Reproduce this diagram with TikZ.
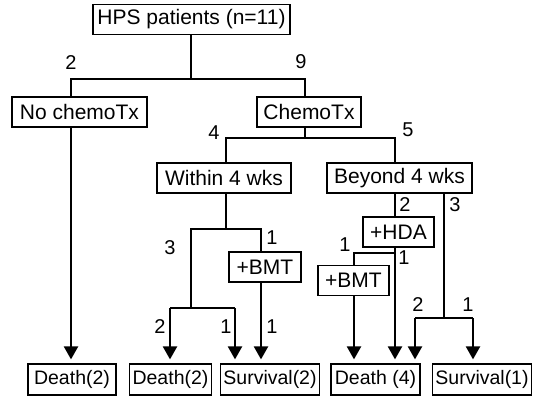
\documentclass[tikz,border=0pt]{standalone}
\usepackage{fontspec}
\setmainfont{Liberation Sans}
\usetikzlibrary{arrows.meta,positioning,calc}

\begin{document}
\begin{tikzpicture}[x=1pt,y=-1pt,line width=1.2pt,
  box node/.style={draw,line width=1.2pt,minimum height=30pt,inner xsep=3pt,inner ysep=2pt,font=\fontsize{21}{25}\selectfont},
  end node/.style={box node,minimum height=31pt,font=\fontsize{19.5}{23}\selectfont},
  num node/.style={inner sep=0pt,font=\fontsize{20}{24}\selectfont},
  arr/.style={line width=2.2pt,-{Triangle[width=14pt,length=13pt]},shorten >=4pt}]
\useasboundingbox (0,0) rectangle (536,399);
% boxes
\node[box node,minimum width=197pt] (hps) at (191.5,19.5) {HPS patients (n=11)};
\node[box node,minimum width=135pt] (nochemo) at (79.5,112) {No chemoTx};
\node[box node,minimum width=104pt] (chemo) at (309,112) {ChemoTx};
\node[box node,minimum width=134pt] (within) at (224,178) {Within 4 wks};
\node[box node,minimum width=145pt] (beyond) at (399.5,178) {Beyond 4 wks};
\node[box node,minimum width=72pt] (bmtA) at (265,267) {+BMT};
\node[box node,minimum width=71pt] (hda) at (398.5,232) {+HDA};
\node[box node,minimum width=71pt] (bmtB) at (353.5,280.5) {+BMT};
% outcomes
\node[end node,minimum width=88pt] (deathA) at (72,379.5) {Death(2)};
\node[end node,minimum width=81pt] (deathB) at (170.5,379.5) {Death(2)};
\node[end node,minimum width=98pt] (survA) at (270,379.5) {Survival(2)};
\node[end node,minimum width=89pt] (deathC) at (375.5,379.5) {Death (4)};
\node[end node,minimum width=98pt] (survB) at (482,379.5) {Survival(1)};
% split points
\coordinate (a1) at (71,79); \coordinate (a2) at (305,79);
\coordinate (b1) at (226,138); \coordinate (b2) at (395,138);
\coordinate (c1) at (191,229); \coordinate (c2) at (261,229);
\coordinate (d1) at (170,308); \coordinate (d2) at (235,308);
\coordinate (e1) at (354,253); \coordinate (e2) at (395,253);
\coordinate (f0) at (444,318);
\coordinate (f1) at (415,318); \coordinate (f2) at (473,318);
% thin lines
\draw (hps.south -| c1) -- (c1 |- a1);
\draw (nochemo.north -| a1) -- (a1) -- (a2) -- (chemo.north -| a2);
\draw (chemo.south -| a2) -- (a2 |- b1);
\draw (within.north -| b1) -- (b1) -- (b2) -- (beyond.north -| b2);
\draw (within.south -| b1) -- (b1 |- c1);
\draw (c1 |- d1) -- (c1) -- (c2) -- (bmtA.north -| c2);
\draw (d1) -- (d2);
\draw (beyond.south -| b2) -- (hda.north -| b2);
\draw (beyond.south -| f0) -- (f0);
\draw (f1) -- (f2);
\draw (e2) -- (e1) -- (bmtB.north -| e1);
% arrows
\draw[arr] (nochemo.south -| a1) -- (deathA.north -| a1);
\draw[arr] (d1) -- (deathB.north -| d1);
\draw[arr] (d2) -- (survA.north -| d2);
\draw[arr] (bmtA.south -| c2) -- (survA.north -| c2);
\draw[arr] (hda.south -| e2) -- (deathC.north -| e2);
\draw[arr] (bmtB.south -| e1) -- (deathC.north -| e1);
\draw[arr] (f1) -- (deathC.north -| f1);
\draw[arr] (f2) -- (survB.north -| f2);
% counts
\node[num node] (n1) at (71,63) {2};
\node[num node] (n2) at (301,62) {9};
\node[num node] (n3) at (214,133) {4};
\node[num node] (n4) at (408,130) {5};
\node[num node] (n5) at (170,248) {3};
\node[num node] (n6) at (272,238) {1};
\node[num node] (n7) at (160,327) {2};
\node[num node] (n8) at (226,327) {1};
\node[num node] (n9) at (272,327) {1};
\node[num node] (n10) at (405,205) {2};
\node[num node] (n11) at (455,205) {3};
\node[num node] (n12) at (345,245) {1};
\node[num node] (n13) at (404,258) {1};
\node[num node] (n14) at (418,305) {2};
\node[num node] (n15) at (468,305) {1};
\end{tikzpicture}
\end{document}
